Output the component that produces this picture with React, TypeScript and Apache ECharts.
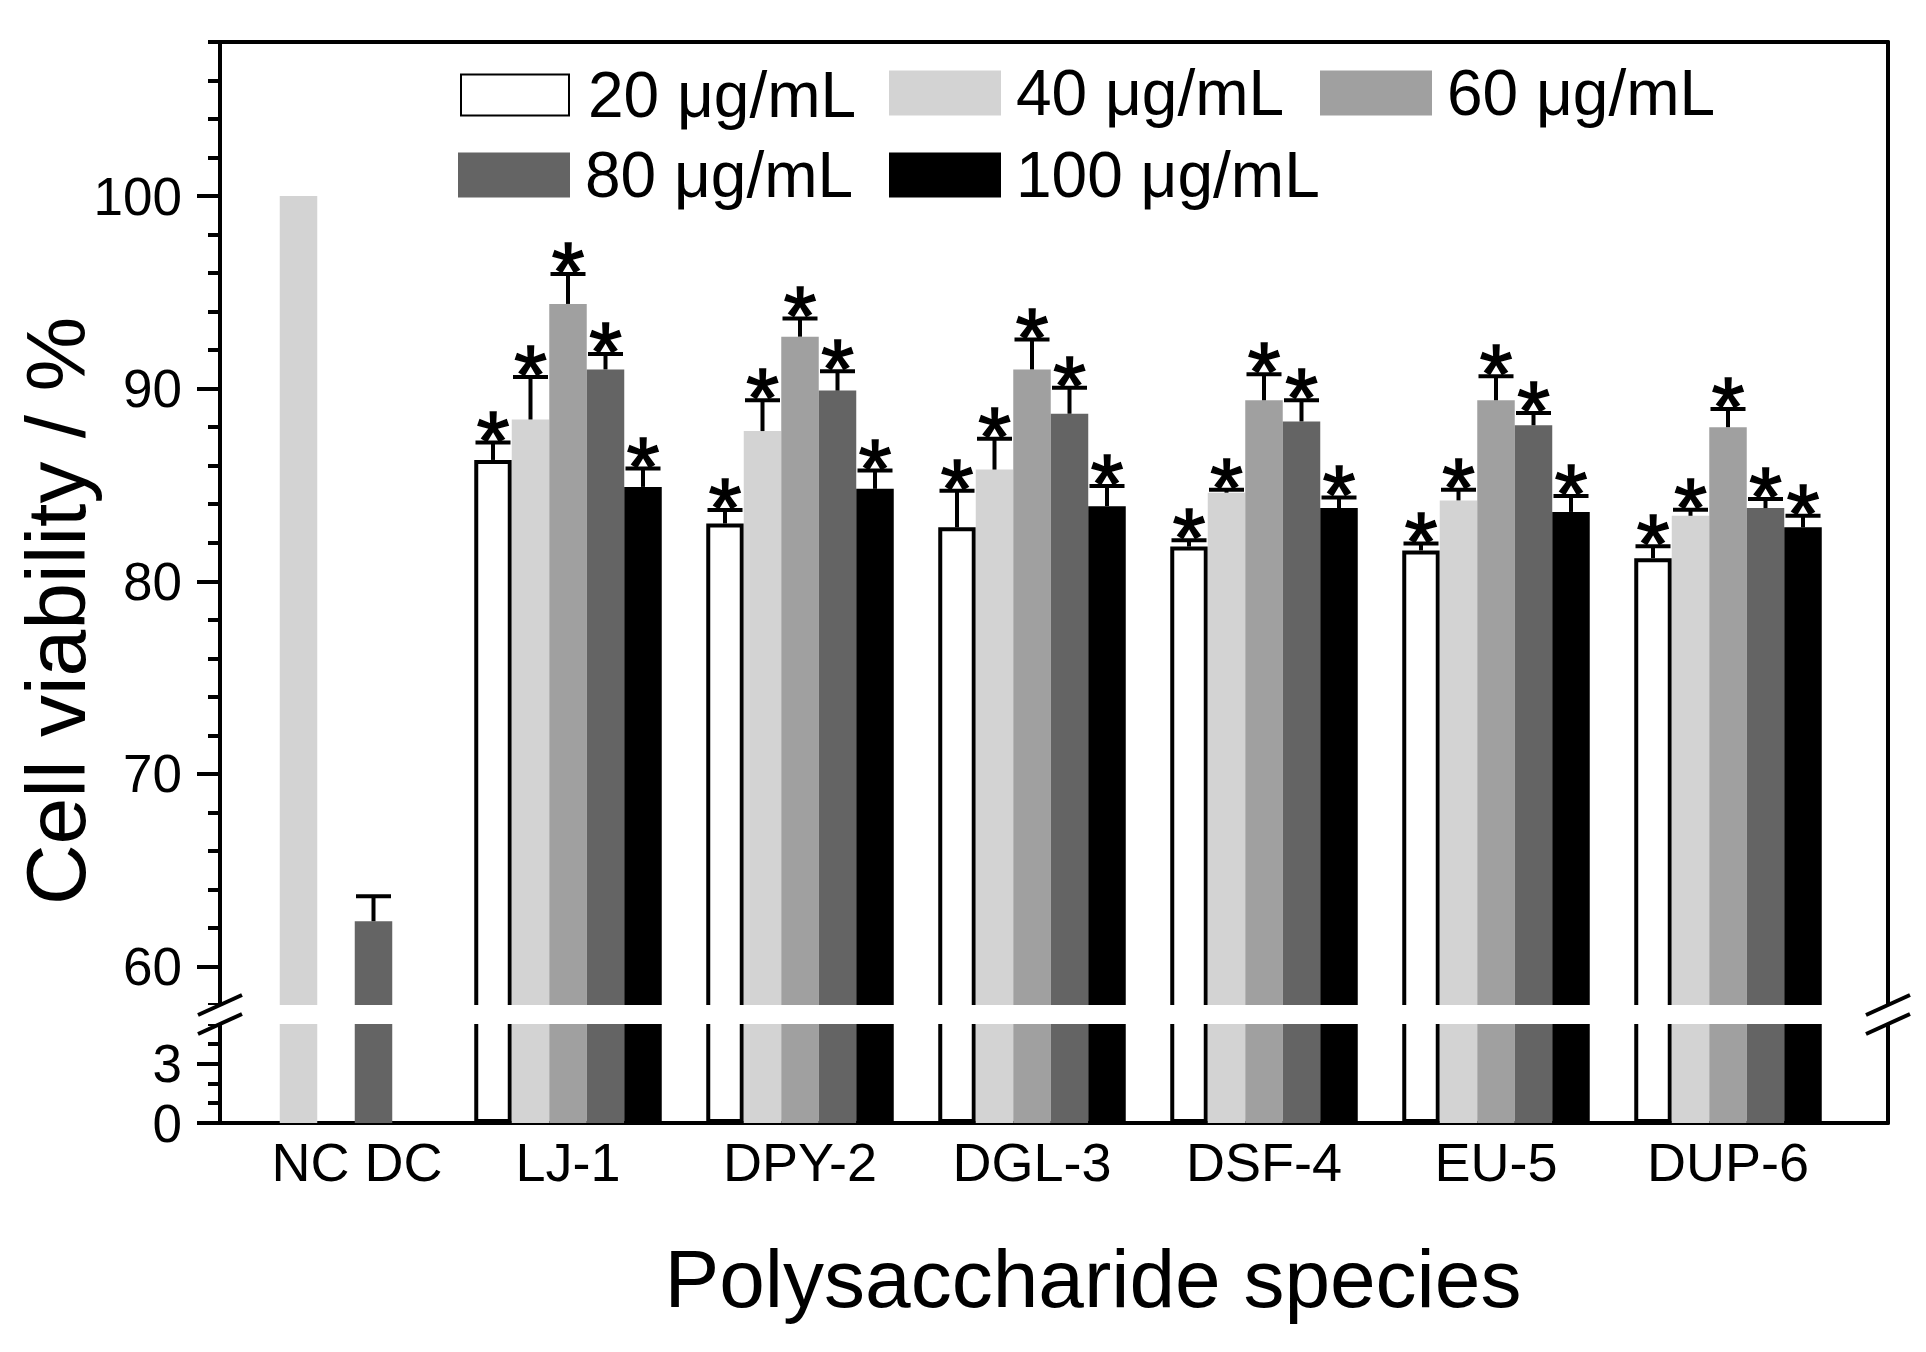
import { useEffect, useRef } from 'react'
import * as echarts from 'echarts'

// data
const categories = ['NC DC', 'LJ-1', 'DPY-2', 'DGL-3', 'DSF-4', 'EU-5', 'DUP-6']
const doseNames = ['20 μg/mL', '40 μg/mL', '60 μg/mL', '80 μg/mL', '100 μg/mL']
const doseColors = ['#ffffff', '#d3d3d3', '#a0a0a0', '#646464', '#000000']

const v20 = [null, 86.3, 83.0, 82.8, 81.8, 81.6, 81.2]
const v40 = [100, 88.4, 87.8, 85.8, 84.6, 84.2, 83.4]
const v60 = [null, 94.4, 92.7, 91.0, 89.4, 89.4, 88.0]
const v80 = [62.35, 91.0, 89.9, 88.7, 88.3, 88.1, 83.8]
const v100 = [null, 84.9, 84.8, 83.9, 83.8, 83.6, 82.8]

const e20 = [null, 0.9, 0.7, 1.9, 0.33, 0.36, 0.62]
const e40 = [null, 2.2, 1.6, 1.6, 0.15, 0.55, 0.31]
const e60 = [null, 1.55, 0.95, 1.55, 1.35, 1.24, 0.95]
const e80 = [1.3, 0.8, 1.0, 1.35, 1.1, 0.64, 0.47]
const e100 = [null, 0.95, 0.95, 1.05, 0.55, 0.83, 0.6]

// '*' marks: significant difference vs DC
const significant = [false, true, true, true, true, true, true]

const upperTickLabels = [60, 70, 80, 90, 100]
const lowerTickLabels = [0, 3]
const upperRange = [58, 108]
const lowerRange = [0, 5]

const values = [v20, v40, v60, v80, v100]
const errors = [e20, e40, e60, e80, e100]

// layout (px)
const W = 1926
const H = 1352
const LEFT = 220
const FRAME_W = 1668
const BAND = 232
const PLOT_W = BAND * categories.length
const TOP = 42
const K_UP = 19.26
const UP_BOTTOM = TOP + (upperRange[1] - upperRange[0]) * K_UP
const BASE = 1123
const K_LOW = 19.8
const LOW_TOP = BASE - (lowerRange[1] - lowerRange[0]) * K_LOW
const OVER = 0.5
const BAR_W = 37.5
const CAP = 17.5
const LINE = 4
const FONT = 'Liberation Sans, Arial, sans-serif'

export default function App() {
  const chartRef = useRef<HTMLDivElement>(null)

  useEffect(() => {
    if (!chartRef.current) return
    const chart = echarts.init(chartRef.current, undefined, { renderer: 'svg' })

    const upLabMax = upperTickLabels[upperTickLabels.length - 1]
    const upLabMin = upperTickLabels[0]
    const lowLabMax = lowerTickLabels[lowerTickLabels.length - 1]

    const grids = [
      // 0: bars, upper part
      { left: LEFT, top: TOP, width: PLOT_W, height: (upperRange[1] - upperRange[0] + OVER) * K_UP },
      // 1: bars, lower part
      {
        left: LEFT,
        top: BASE - (lowerRange[1] + OVER) * K_LOW,
        width: PLOT_W,
        height: (lowerRange[1] + OVER) * K_LOW
      },
      // 2: frame, upper
      { left: LEFT, top: TOP, width: FRAME_W, height: UP_BOTTOM - TOP },
      // 3: frame, lower
      { left: LEFT, top: LOW_TOP, width: FRAME_W, height: BASE - LOW_TOP },
      // 4: labelled ticks, upper
      {
        left: LEFT,
        top: TOP + (upperRange[1] - upLabMax) * K_UP,
        width: FRAME_W,
        height: (upLabMax - upLabMin) * K_UP
      },
      // 5: labelled ticks, lower
      { left: LEFT, top: BASE - lowLabMax * K_LOW, width: FRAME_W, height: lowLabMax * K_LOW }
    ]

    const hiddenX = (gridIndex: number) => ({ gridIndex, type: 'value', show: false, min: 0, max: 1 })
    const lineStyle = { color: '#000', width: LINE }

    const frameX = (gridIndex: number, position: string) => ({
      gridIndex,
      type: 'value',
      position,
      min: 0,
      max: 1,
      axisLine: { show: true, onZero: false, lineStyle },
      axisTick: { show: false },
      axisLabel: { show: false },
      splitLine: { show: false }
    })

    const xAxis: any[] = [
      { gridIndex: 0, type: 'category', data: categories, show: false },
      {
        gridIndex: 1,
        type: 'category',
        data: categories,
        axisLine: { show: false, onZero: false },
        axisTick: { show: false },
        axisLabel: {
          interval: 0,
          color: '#000',
          fontFamily: FONT,
          fontSize: 54,
          margin: 12,
          formatter: (v: string, idx: number) => (idx === 0 ? `{shift|${v}}` : v),
          rich: {
            shift: { padding: [0, 0, 0, 42], fontSize: 54, fontFamily: FONT, color: '#000' }
          }
        }
      },
      frameX(2, 'top'),
      frameX(3, 'bottom'),
      hiddenX(4),
      hiddenX(5)
    ]

    const frameY = (gridIndex: number, min: number, max: number, interval: number) => ({
      gridIndex,
      type: 'value',
      position: 'left',
      min,
      max,
      interval,
      axisLine: { show: true, onZero: false, lineStyle },
      axisTick: { show: true, inside: false, length: 12, lineStyle: { color: '#000', width: LINE } },
      axisLabel: { show: false },
      splitLine: { show: false }
    })
    const rightLine = (gridIndex: number) => ({
      gridIndex,
      type: 'value',
      position: 'right',
      min: 0,
      max: 1,
      axisLine: { show: true, onZero: false, lineStyle },
      axisTick: { show: false },
      axisLabel: { show: false },
      splitLine: { show: false }
    })
    const labelY = (gridIndex: number, min: number, max: number, interval: number) => ({
      gridIndex,
      type: 'value',
      position: 'left',
      min,
      max,
      interval,
      axisLine: { show: false, onZero: false },
      axisTick: { show: true, inside: false, length: 23, lineStyle: { color: '#000', width: LINE } },
      axisLabel: { color: '#000', fontFamily: FONT, fontSize: 53, margin: 38 },
      splitLine: { show: false }
    })

    const yAxis: any[] = [
      { gridIndex: 0, type: 'value', min: upperRange[0] - OVER, max: upperRange[1], show: false },
      { gridIndex: 1, type: 'value', min: lowerRange[0], max: lowerRange[1] + OVER, show: false },
      frameY(2, upperRange[0], upperRange[1], 2),
      rightLine(2),
      frameY(3, lowerRange[0], lowerRange[1], 1),
      rightLine(3),
      labelY(4, upLabMin, upLabMax, upperTickLabels[1] - upperTickLabels[0]),
      labelY(5, lowerTickLabels[0], lowLabMax, lowerTickLabels[1] - lowerTickLabels[0])
    ]

    const series: any[] = []
    doseNames.forEach((name, i) => {
      const itemStyle =
        i === 0
          ? { color: doseColors[i], borderColor: '#000', borderWidth: LINE }
          : { color: doseColors[i], borderWidth: 0 }
      ;[0, 1].forEach((g) => {
        series.push({
          type: 'bar',
          name,
          xAxisIndex: g,
          yAxisIndex: g,
          data: values[i],
          barWidth: BAR_W,
          barGap: '0%',
          itemStyle,
          emphasis: { disabled: true }
        })
      })
      const errData = categories
        .map((_, c) =>
          values[i][c] == null || errors[i][c] == null
            ? null
            : [c, values[i][c], errors[i][c], significant[c] ? 1 : 0]
        )
        .filter((d) => d !== null)
      series.push({
        type: 'custom',
        name,
        xAxisIndex: 0,
        yAxisIndex: 0,
        z: 5,
        data: errData,
        encode: { x: 0, y: 1 },
        renderItem: (_params: any, api: any) => {
          const cat = api.value(0)
          const val = api.value(1)
          const err = api.value(2)
          const base = api.coord([cat, val])
          const tip = api.coord([cat, val + err])
          const x = base[0] + (i - 2) * BAR_W
          const stroke = { stroke: '#000', lineWidth: LINE }
          const children: any[] = [
            { type: 'line', shape: { x1: x, y1: base[1], x2: x, y2: tip[1] }, style: stroke },
            { type: 'line', shape: { x1: x - CAP, y1: tip[1], x2: x + CAP, y2: tip[1] }, style: stroke }
          ]
          if (api.value(3)) {
            children.push({
              type: 'text',
              x,
              y: tip[1] - 2,
              style: {
                text: '*',
                fill: '#000',
                stroke: '#000',
                lineWidth: 1.6,
                fontFamily: FONT,
                fontSize: 84,
                align: 'center',
                verticalAlign: 'middle'
              }
            })
          }
          return { type: 'group', children }
        }
      })
    })

    // legend: 3 + 2 layout (top is shifted for the taller text row)
    const legendCols = [458, 889, 1320]
    const legendRows = [61, 143]
    const legend = doseNames.map((name, i) => {
      const bordered = i === 0
      return {
        data: [name],
        left: legendCols[i % 3] + (bordered ? 2 : 0),
        top: legendRows[Math.floor(i / 3)] + (bordered ? 2 : 0),
        icon: 'rect',
        itemWidth: bordered ? 108 : 112,
        itemHeight: bordered ? 41 : 45,
        padding: 0,
        textStyle: {
          color: '#000',
          fontFamily: FONT,
          fontSize: 64,
          padding: [0, 0, 12, bordered ? 14 : 10]
        }
      }
    })

    const breakMark = (ax: number, y: number) => ({
      type: 'line',
      z: 11,
      shape: { x1: ax - 22, y1: y + 10, x2: ax + 22, y2: y - 10 },
      style: { stroke: '#000', lineWidth: LINE }
    })

    const graphic: any[] = [
      {
        type: 'rect',
        z: 10,
        shape: { x: 0, y: UP_BOTTOM, width: W, height: LOW_TOP - UP_BOTTOM },
        style: { fill: '#fff' }
      },
      breakMark(LEFT, UP_BOTTOM),
      breakMark(LEFT, LOW_TOP),
      breakMark(LEFT + FRAME_W, UP_BOTTOM),
      breakMark(LEFT + FRAME_W, LOW_TOP),
      {
        type: 'text',
        x: 56,
        y: 611,
        rotation: Math.PI / 2,
        style: {
          text: 'Cell viability / %',
          fill: '#000',
          fontFamily: FONT,
          fontSize: 84,
          align: 'center',
          verticalAlign: 'middle'
        }
      },
      {
        type: 'text',
        x: 1093,
        y: 1278,
        style: {
          text: 'Polysaccharide species',
          fill: '#000',
          fontFamily: FONT,
          fontSize: 82,
          align: 'center',
          verticalAlign: 'middle'
        }
      }
    ]

    const option: any = {
      animation: false,
      backgroundColor: '#fff',
      textStyle: { fontFamily: FONT },
      grid: grids,
      xAxis,
      yAxis,
      legend,
      series,
      graphic
    }

    chart.setOption(option)

    return () => {
      chart.dispose()
    }
  }, [])

  return (
    <div
      ref={chartRef}
      style={{ position: 'fixed', left: 0, top: 0, width: `${W}px`, height: `${H}px` }}
    />
  )
}
